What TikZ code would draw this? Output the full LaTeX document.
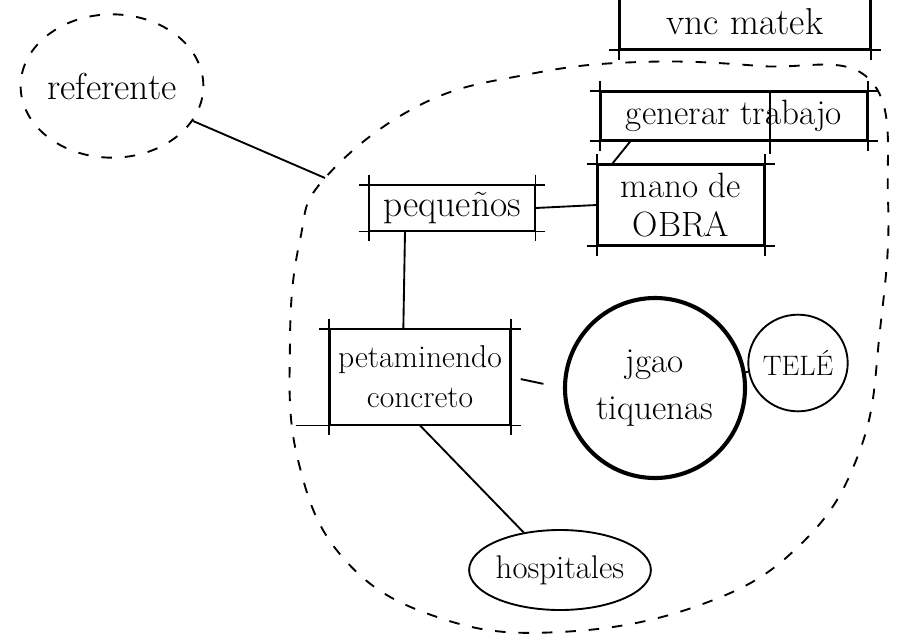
\documentclass[tikz,border=0pt]{standalone}
\usetikzlibrary{shapes.geometric}
\begin{document}
\begin{tikzpicture}[x=0.03cm, y=-0.03cm, line width=1.6pt,
    sketchbox/.style={draw, rectangle, inner sep=3pt, align=center, font=\fontsize{32}{36}\selectfont},
    bubble/.style={draw, ellipse, inner sep=0pt, font=\fontsize{32}{36}\selectfont},
    hdash/.style={dash pattern=on 9pt off 11pt}]
        \useasboundingbox (0,0) rectangle (897,635);

        % Zona general (linea discontinua)
        \draw[hdash] plot[smooth cycle, tension=0.7] coordinates {
            (325,178) (420,105) (530,74) (640,62) (760,66) (870,80)
            (888,200) (880,330) (860,450) (800,545) (700,605) (560,632)
            (440,618) (345,560) (298,460) (290,340) (300,240)};
        \coordinate (edge) at (325,178);

        % Referente
        \node[bubble, hdash, minimum width=5.4cm, minimum height=4.3cm] (ref) at (112,86) {referente};

        % Cajas
        \node[sketchbox, minimum width=7.5cm, minimum height=1.65cm, anchor=south] (vnc) at (745,50) {vnc matek};
        \node[sketchbox, minimum width=8.0cm, minimum height=1.44cm, font=\fontsize{30}{34}\selectfont] (gen) at (734,116) {generar trabajo};
        \node[sketchbox, minimum width=5.0cm, minimum height=2.4cm, font=\fontsize{30}{34}\selectfont] (mano) at (681,205) {mano de\\OBRA};
        \node[sketchbox, minimum width=4.95cm, minimum height=1.35cm] (peq) at (452,208) {pequeños};
        \node[sketchbox, minimum width=5.4cm, minimum height=2.85cm, font=\fontsize{27}{34}\selectfont] (pet) at (420,377) {petaminendo\\concreto};

        % Esquinas cruzadas
        \foreach \b in {vnc,gen,mano,peq,pet} {
            \draw ([xshift=-0.3cm]\b.north west) -- ([xshift=0.3cm]\b.north east);
            \draw ([xshift=-0.3cm]\b.south west) -- ([xshift=0.3cm]\b.south east);
            \draw ([yshift=0.3cm]\b.north west) -- ([yshift=-0.3cm]\b.south west);
            \draw ([yshift=0.3cm]\b.north east) -- ([yshift=-0.3cm]\b.south east);
        }
        \draw ([xshift=1.08cm]gen.north) -- ([xshift=1.08cm, yshift=-0.4cm]gen.south);
        \draw ([xshift=-1cm]pet.south west) -- (pet.south west);

        % Circulos
        \node[circle, draw, line width=3.5pt, minimum size=5.4cm, align=center,
              font=\fontsize{30}{40}\selectfont] (jg) at (655,388) {jgao\\tiquenas};
        \node[bubble, minimum width=2.85cm, minimum height=2.9cm, font=\fontsize{24}{28}\selectfont] (tele) at (798,363) {TELÉ};
        \node[bubble, minimum width=3.3cm, minimum height=2.4cm, font=\fontsize{28}{32}\selectfont] (hosp) at (560,570) {hospitales};

        % Conexiones
        \draw (ref) -- (edge);
        \draw ([xshift=-3.1cm]gen.south) -- ([xshift=-2.07cm]mano.north);
        \draw (peq.east) -- (mano.west);
        \draw ([xshift=-1.41cm]peq.south) -- ([xshift=-0.5cm]pet.north);
        \draw[shorten <=0.3cm, shorten >=0.6cm] (pet.east) -- (jg.west);
        \draw (jg) -- (tele);
        \draw (pet.south) -- (hosp);
    \end{tikzpicture}
\end{document}
